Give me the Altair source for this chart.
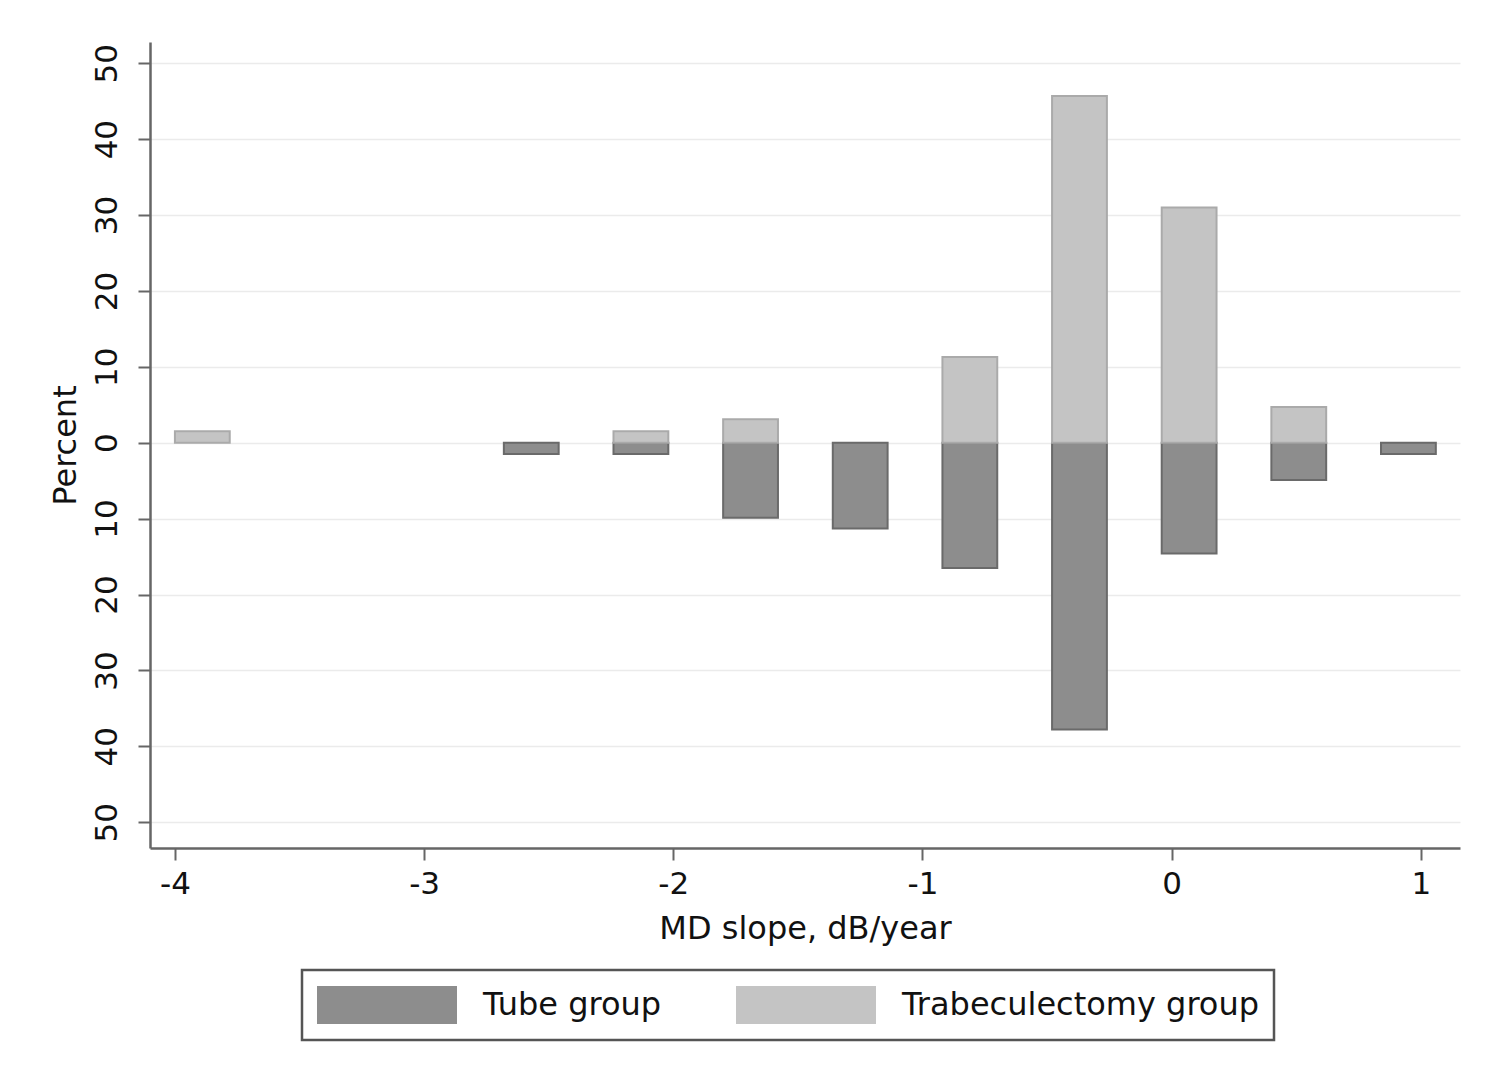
import altair as alt
import pandas as pd

# Bin edges (MD slope, dB/year) of the drawn bars
bin_lo = [-4.00, -3.56, -3.12, -2.68, -2.24, -1.80, -1.36, -0.92, -0.48, -0.04, 0.40, 0.84]
bin_hi = [-3.78, -3.34, -2.90, -2.46, -2.02, -1.58, -1.14, -0.70, -0.26, 0.18, 0.62, 1.06]
# Percent of eyes per bin
tube_pct = [0, 0, 0, 1.5, 1.5, 9.9, 11.3, 16.5, 37.8, 14.6, 4.9, 1.5]
trab_pct = [1.5, 0, 0, 0, 1.5, 3.1, 0, 11.3, 45.7, 31.0, 4.7, 0]

groups = ["Tube group", "Trabeculectomy group"]
fill_colors = ["#8d8d8d", "#c4c4c4"]
edge_colors = ["#6a6a6a", "#aaaaaa"]
x_ticks = [-4, -3, -2, -1, 0, 1]
y_ticks = [-50, -40, -30, -20, -10, 0, 10, 20, 30, 40, 50]

rows = []
for lo, hi, t, b in zip(bin_lo, bin_hi, tube_pct, trab_pct):
    if t > 0:
        rows.append({"lo": lo, "hi": hi, "pct": -t, "group": groups[0]})
    if b > 0:
        rows.append({"lo": lo, "hi": hi, "pct": b, "group": groups[1]})
df = pd.DataFrame(rows)

FONT = "DejaVu Sans"
TXT = "#111111"
AX = "#666666"

chart = alt.Chart(df).mark_bar(strokeWidth=2).encode(
    x=alt.X(
        "lo:Q",
        scale=alt.Scale(domain=[-4.1, 1.157], nice=False, zero=False),
        axis=alt.Axis(
            values=x_ticks,
            title="MD slope, dB/year",
            grid=False,
            labelExpr="datum.value < 0 ? '-' + abs(datum.value) : '' + datum.value",
            labelFont=FONT, labelFontSize=31, labelColor=TXT, labelPadding=9,
            tickSize=12, tickColor=AX, tickWidth=2,
            domainColor=AX, domainWidth=2.5,
            titleFont=FONT, titleFontSize=32, titleFontWeight="normal",
            titleColor=TXT, titlePadding=14,
        ),
    ),
    x2="hi:Q",
    y=alt.Y(
        "pct:Q",
        scale=alt.Scale(domain=[-53.4, 52.8], nice=False),
        axis=alt.Axis(
            values=y_ticks,
            title="Percent",
            labelExpr="'' + abs(datum.value)",
            labelAngle=-90, labelAlign="center", labelBaseline="alphabetic",
            labelFont=FONT, labelFontSize=31, labelColor=TXT, labelPadding=22,
            tickSize=12, tickColor=AX, tickWidth=2,
            domainColor=AX, domainWidth=2.5,
            grid=True, gridColor="#ebebeb", gridWidth=1.5,
            titleFont=FONT, titleFontSize=32, titleFontWeight="normal",
            titleColor=TXT, titlePadding=9,
        ),
    ),
    y2=alt.datum(0),
    color=alt.Color(
        "group:N",
        scale=alt.Scale(domain=groups, range=fill_colors),
        legend=alt.Legend(
            title=None, orient="none", legendX=152, legendY=928,
            direction="horizontal",
            symbolType="M-1,-0.2714L1,-0.2714L1,0.2714L-1,0.2714Z",
            symbolSize=19600, clipHeight=40, symbolStrokeWidth=0,
            labelFont=FONT, labelFontSize=32, labelColor=TXT, labelLimit=600,
            labelOffset=26, columnPadding=74, padding=15,
            strokeColor="#555555", fillColor="white",
        ),
    ),
    stroke=alt.Stroke(
        "group:N", scale=alt.Scale(domain=groups, range=edge_colors), legend=None
    ),
).properties(
    width=1310,
    height=806,
    padding={"left": 142, "top": 34, "right": 30, "bottom": 236},
    autosize=alt.AutoSizeParams(type="none"),
    background="white",
).configure_view(stroke=None).configure_legend(strokeWidth=2.5)

chart.save("out.html", embed_options={"renderer": "svg", "actions": False})
